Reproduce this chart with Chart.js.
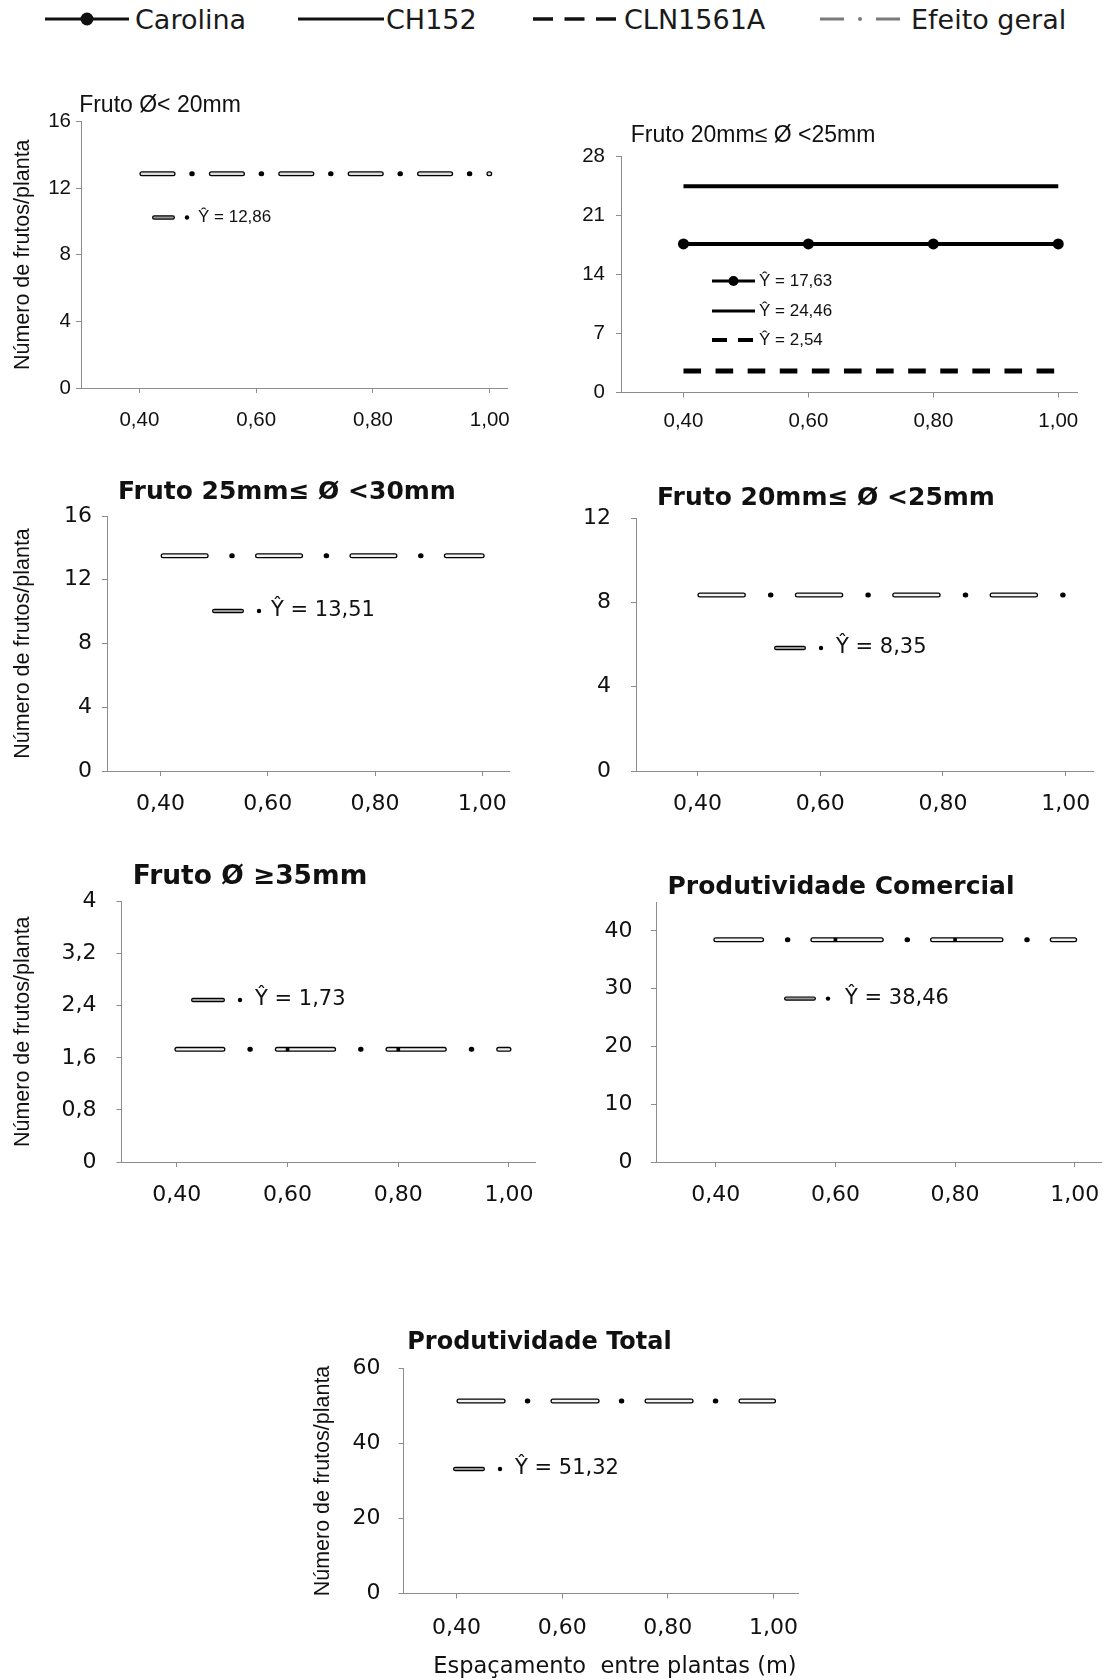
<!DOCTYPE html>
<html>
<head>
<meta charset="utf-8">
<script src="https://cdn.jsdelivr.net/npm/chart.js@4.4.1/dist/chart.umd.min.js"></script>
<style>
  html, body { margin: 0; padding: 0; background: #fff; }
  #page { position: relative; width: 1109px; height: 1680px; overflow: hidden; background: #fff; }
  #page canvas { position: absolute; }
  .key { position: absolute; top: 0; height: 38px; display: flex; align-items: center;
         font-family: "DejaVu Sans", sans-serif; font-size: 27px; color: #1a1a1a; white-space: nowrap; }
  .key svg { display: block; }
</style>
</head>
<body>
<div id="page">
  <div class="key" style="left:45px">
    <svg width="84" height="20"><line x1="0" y1="10" x2="84" y2="10" stroke="#111" stroke-width="3"/><circle cx="42" cy="10" r="6.5" fill="#111"/></svg>
    <span style="margin-left:6px">Carolina</span>
  </div>
  <div class="key" style="left:298px">
    <svg width="86" height="20"><line x1="0" y1="10" x2="86" y2="10" stroke="#111" stroke-width="3"/></svg>
    <span style="margin-left:2px">CH152</span>
  </div>
  <div class="key" style="left:533px">
    <svg width="83" height="20"><line x1="0" y1="10" x2="83" y2="10" stroke="#111" stroke-width="3.5" stroke-dasharray="20 11.5"/></svg>
    <span style="margin-left:8px">CLN1561A</span>
  </div>
  <div class="key" style="left:820px">
    <svg width="80" height="20"><line x1="0" y1="10" x2="24" y2="10" stroke="#7a7a7a" stroke-width="3"/><circle cx="40" cy="10" r="2" fill="#7a7a7a"/><line x1="56" y1="10" x2="80" y2="10" stroke="#7a7a7a" stroke-width="3"/></svg>
    <span style="margin-left:11px">Efeito geral</span>
  </div>
</div>
<script>
// espaçamento entre plantas (m)
const spacing = [0.40, 0.60, 0.80, 1.00];
const xTicks = [0.40, 0.60, 0.80, 1.00];

// efeito geral / cultivares (frutos por planta)
const fruto20 = [12.86, 12.86, 12.86, 12.86];
const carolina20a25 = [17.63, 17.63, 17.63, 17.63];
const ch152_20a25 = [24.46, 24.46, 24.46, 24.46];
const cln1561a_20a25 = [2.54, 2.54, 2.54, 2.54];
const fruto25a30 = [13.51, 13.51, 13.51, 13.51];
const fruto20a25geral = [8.35, 8.35, 8.35, 8.35];
const fruto35 = [1.73, 1.73, 1.73, 1.73];
const prodComercial = [38.46, 38.46, 38.46, 38.46];
const prodTotal = [51.32, 51.32, 51.32, 51.32];

// y tick labels
const yTicks1 = [0, 4, 8, 12, 16];
const yTicks2 = [0, 7, 14, 21, 28];
const yTicks3 = [0, 4, 8, 12, 16];
const yTicks4 = [0, 4, 8, 12];
const yTicks5 = [0, 0.8, 1.6, 2.4, 3.2, 4];
const yTicks6 = [0, 10, 20, 30, 40];
const yTicks7 = [0, 20, 40, 60];

const Y_TITLE = 'Número de frutos/planta';
const X_TITLE = 'Espaçamento  entre plantas (m)';

const comma = (v, d) => (d == null ? String(v) : v.toFixed(d)).replace('.', ',');
const pts = vals => spacing.map((x, i) => ({ x: x, y: vals[i] }));
const yHat = vals => 'Ŷ = ' + comma(vals[0], 2);

const STYLES = {
  narrow: { tick: { family: 'Liberation Sans, Arial, sans-serif', size: 20.5 },
            title: '23px "Liberation Sans", Arial, sans-serif',
            key: '17px "Liberation Sans", Arial, sans-serif' },
  wide:   { tick: { family: 'DejaVu Sans, sans-serif', size: 22 },
            title: 'bold 25px "DejaVu Sans", sans-serif',
            key: '21px "DejaVu Sans", sans-serif' }
};

// dash-dot "efeito geral" line: black outline with a pale core
// d = dash, a/b = space before/after the dot, phase = how far into the first dash the line begins
function geralSets(vals, d, a, b, phase, fill, marks) {
  const w = 5;
  const off = phase - w / 2;
  return [
    { data: pts(vals), borderColor: fill, borderWidth: 2.4, borderCapStyle: 'round',
      borderDash: [d - w, a + b + w], borderDashOffset: off,
      pointRadius: marks ? [0, 2.6, 2.6, 0] : 0, pointStyle: 'rect',
      pointBackgroundColor: '#000', pointBorderWidth: 0, order: 1 },
    { data: pts(vals), borderColor: '#000', borderWidth: w, borderCapStyle: 'round',
      borderDash: [d - w, a + w / 2 - 0.25, 0.5, b + w / 2 - 0.25], borderDashOffset: off,
      pointRadius: 0, order: 2 }
  ];
}

function drawKey(ctx, k, font) {
  ctx.save();
  ctx.strokeStyle = '#000';
  ctx.fillStyle = '#000';
  if (k.kind === 'geral') {
    ctx.lineCap = 'round';
    ctx.beginPath(); ctx.moveTo(k.x + 2.2, k.y); ctx.lineTo(k.x + k.len - 2.2, k.y);
    ctx.lineWidth = 4.4; ctx.stroke();
    ctx.strokeStyle = '#9a9a9a'; ctx.lineWidth = 2; ctx.stroke();
    ctx.beginPath(); ctx.arc(k.x + k.dot, k.y, 2.2, 0, Math.PI * 2); ctx.fill();
  } else {
    ctx.lineWidth = k.kind === 'cln' ? 4 : 3;
    if (k.kind === 'cln') ctx.setLineDash([15, 11]);
    ctx.beginPath(); ctx.moveTo(k.x, k.y); ctx.lineTo(k.x + k.len, k.y); ctx.stroke();
    if (k.kind === 'carolina') {
      ctx.beginPath(); ctx.arc(k.x + k.len / 2, k.y, 5, 0, Math.PI * 2); ctx.fill();
    }
  }
  ctx.fillStyle = '#111';
  ctx.font = font;
  ctx.textAlign = 'left';
  ctx.textBaseline = 'middle';
  ctx.fillText(k.label, k.x + k.text, k.y);
  ctx.restore();
}

function decor(p, ox, oy, st) {
  return {
    id: 'panelDecor',
    afterDraw(chart) {
      const ctx = chart.ctx;
      ctx.save();
      ctx.translate(-ox, -oy);
      ctx.fillStyle = '#111';
      ctx.textAlign = 'center';
      ctx.textBaseline = 'middle';
      ctx.font = p.title.font || st.title;
      ctx.fillText(p.title.text, p.title.cx, p.title.cy);
      if (p.xTitle) {
        ctx.font = '22.5px "DejaVu Sans", sans-serif';
        ctx.fillText(X_TITLE, p.xTitle.cx, p.xTitle.cy);
      }
      p.keys.forEach(k => drawKey(ctx, k, st.key));
      ctx.restore();
    }
  };
}

const axisGrid = { display: true, drawOnChartArea: false, drawTicks: true, tickLength: 5, color: '#8c8c8c', lineWidth: 1 };
const axisBorder = { display: true, color: '#8c8c8c', width: 1 };

const panels = [
  { style: 'narrow', frame: { axisX: 81, top: 121.5, bottom: 388, right: 507.3, yTitleX: 23 },
    xMax: 1.03, yMax: 16, yTicks: yTicks1, yPad: 5, xPad: 15,
    title: { text: 'Fruto Ø< 20mm', cx: 160, cy: 106 },
    sets: geralSets(fruto20, 36.2, 16.4, 16.8, 0, '#dcdcdc', false),
    keys: [{ kind: 'geral', x: 152, y: 217.5, len: 23, dot: 35, text: 46, label: yHat(fruto20) }] },
  { style: 'narrow', frame: { axisX: 621, top: 156.5, bottom: 392.5, right: 1077 },
    xMax: 1.03, yMax: 28, yTicks: yTicks2, yPad: 11, xPad: 12,
    title: { text: 'Fruto 20mm≤ Ø <25mm', cx: 753, cy: 136 },
    sets: [
      { data: pts(carolina20a25), borderColor: '#000', borderWidth: 4, pointRadius: 5.5,
        pointBackgroundColor: '#000', pointBorderWidth: 0 },
      { data: pts(ch152_20a25), borderColor: '#000', borderWidth: 4, pointRadius: 0 },
      { data: pts(cln1561a_20a25), borderColor: '#000', borderWidth: 5, borderDash: [17.6, 14.5], pointRadius: 0 }
    ],
    keys: [
      { kind: 'carolina', x: 712, y: 281, len: 43, text: 47, label: yHat(carolina20a25) },
      { kind: 'ch152', x: 712, y: 311, len: 43, text: 47, label: yHat(ch152_20a25) },
      { kind: 'cln', x: 712, y: 340, len: 41, text: 47, label: yHat(cln1561a_20a25) }
    ] },
  { style: 'wide', frame: { axisX: 107, top: 516, bottom: 771, right: 509, yTitleX: 23 },
    xMax: 1.05, yMax: 16, yTicks: yTicks3, yPad: 10, xPad: 15,
    title: { text: 'Fruto 25mm≤ Ø <30mm', cx: 287, cy: 492 },
    sets: geralSets(fruto25a30, 48.1, 23.3, 23, 0, '#f2f2f2', false),
    keys: [{ kind: 'geral', x: 212, y: 611, len: 32, dot: 47, text: 59, label: yHat(fruto25a30) }] },
  { style: 'wide', frame: { axisX: 636, top: 518, bottom: 771, right: 1093.4 },
    xMax: 1.045, yMax: 12, yTicks: yTicks4, yPad: 20, xPad: 15,
    title: { text: 'Fruto 20mm≤ Ø <25mm', cx: 826, cy: 498 },
    sets: geralSets(fruto20a25geral, 48.5, 24.8, 24.1, 0, '#f2f2f2', false),
    keys: [{ kind: 'geral', x: 774, y: 648, len: 32, dot: 47, text: 62, label: yHat(fruto20a25geral) }] },
  { style: 'wide', frame: { axisX: 121.5, top: 901.5, bottom: 1162, right: 535, yTitleX: 23 },
    xMax: 1.047, yMax: 4, yTicks: yTicks5, yPad: 20, xPad: 15,
    title: { text: 'Fruto Ø ≥35mm', cx: 250, cy: 877, font: 'bold 26.5px "DejaVu Sans", sans-serif' },
    sets: geralSets(fruto35, 61.4, 24.65, 24.65, 12.8, '#f2f2f2', true),
    keys: [{ kind: 'geral', x: 191, y: 1000, len: 34, dot: 49, text: 64, label: yHat(fruto35) }] },
  { style: 'wide', frame: { axisX: 656, top: 902, bottom: 1162, right: 1101 },
    xMax: 1.044, yMax: 45, yTicks: yTicks6, yPad: 18.5, xPad: 15,
    title: { text: 'Produtividade Comercial', cx: 841, cy: 887 },
    sets: geralSets(prodComercial, 73.5, 23.5, 22.7, 25.2, '#f2f2f2', true),
    keys: [{ kind: 'geral', x: 784, y: 998.6, len: 32, dot: 44, text: 61, label: yHat(prodComercial) }] },
  { style: 'wide', frame: { axisX: 403.6, top: 1368.5, bottom: 1593.5, right: 798.4, yTitleX: 323.5 },
    xMax: 1.047, yMax: 60, yTicks: yTicks7, yPad: 18, xPad: 17,
    title: { text: 'Produtividade Total', cx: 539.5, cy: 1343, font: 'bold 24px "DejaVu Sans", sans-serif' },
    xTitle: { cx: 615, cy: 1667 },
    sets: geralSets(prodTotal, 49.2, 21.9, 22.9, 0, '#f2f2f2', false),
    keys: [{ kind: 'geral', x: 453, y: 1469, len: 32, dot: 47, text: 62, label: yHat(prodTotal) }] }
];

const page = document.getElementById('page');

function build(p) {
  const f = p.frame;
  const st = STYLES[p.style];
  const cL = Math.floor(Math.min(f.axisX - 95, f.yTitleX != null ? f.yTitleX - 16 : Infinity));
  const cT = Math.floor(p.title.cy - 20);
  const cR = Math.ceil(f.right + 30);
  const cB = p.xTitle ? 1680 : Math.ceil(f.bottom + 50);
  const canvas = document.createElement('canvas');
  canvas.width = cR - cL;
  canvas.height = cB - cT;
  canvas.style.left = cL + 'px';
  canvas.style.top = cT + 'px';
  canvas.style.width = (cR - cL) + 'px';
  canvas.style.height = (cB - cT) + 'px';
  page.appendChild(canvas);

  new Chart(canvas, {
    type: 'line',
    data: { datasets: p.sets },
    options: {
      responsive: false,
      animation: false,
      devicePixelRatio: 1,
      layout: { autoPadding: false, padding: { left: 0, top: f.top - cT, right: cR - f.right, bottom: 0 } },
      plugins: { legend: { display: false }, tooltip: { enabled: false }, title: { display: false } },
      scales: {
        x: {
          type: 'linear', min: 0.3, max: p.xMax,
          afterBuildTicks: s => { s.ticks = xTicks.map(v => ({ value: v })); },
          afterFit: s => { s.height = cB - f.bottom; s.paddingLeft = 0; s.paddingRight = 0; },
          ticks: { autoSkip: false, maxRotation: 0, padding: p.xPad, color: '#111', font: st.tick,
                   callback: v => comma(v, 2) },
          grid: axisGrid,
          border: axisBorder
        },
        y: {
          type: 'linear', min: 0, max: p.yMax,
          afterBuildTicks: s => { s.ticks = p.yTicks.map(v => ({ value: v })); },
          afterFit: s => { s.width = f.axisX - cL; s.paddingTop = 0; s.paddingBottom = 0; },
          ticks: { padding: p.yPad, color: '#111', font: st.tick, callback: v => comma(v) },
          grid: axisGrid,
          border: axisBorder,
          title: f.yTitleX != null
            ? { display: true, text: Y_TITLE, color: '#111', font: { family: 'Liberation Sans, Arial, sans-serif', size: 21.5 },
                padding: { top: f.yTitleX - cL - 0.6 * 21.5, bottom: 0 } }
            : { display: false }
        }
      }
    },
    plugins: [decor(p, cL, cT, st)]
  });
}

panels.forEach(build);
</script>
</body>
</html>
